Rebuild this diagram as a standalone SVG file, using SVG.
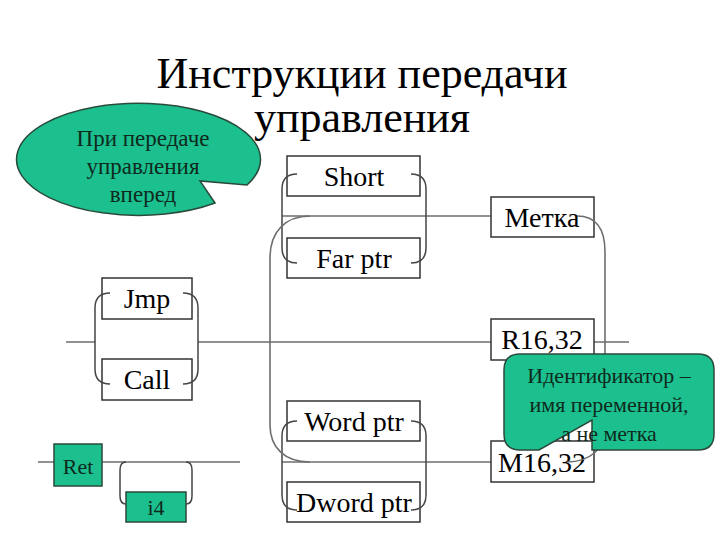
<svg xmlns="http://www.w3.org/2000/svg" width="720" height="540" viewBox="0 0 720 540">
<style>
.bg{fill:#fff}
.title{font-size:44px;fill:#000;text-anchor:middle}
.box{fill:#fff;stroke:#333;stroke-width:1.5}
.gbox{fill:#1cbf8e;stroke:#2a4a3a;stroke-width:1.5}
.lbl{font-size:28px;fill:#000;text-anchor:middle}
.glbl{font-size:23px;fill:#0e2a1c;text-anchor:middle}
.sm{font-size:22px}
.ln{fill:none;stroke:#6e6e6e;stroke-width:1.6}
.br{fill:none;stroke:#444;stroke-width:1.5}
.call{fill:#1cbf8e;stroke:#2a4a3a;stroke-width:1.5}
</style>
<rect class="bg" x="0" y="0" width="720" height="540"/>
<g font-family="'Liberation Serif', 'Times New Roman', serif">
<g id="title">
<text class="title" x="362" y="88">Инструкции передачи</text>
<text class="title" x="362" y="132">управления</text>
</g>
<g id="connectors">
<path class="ln" d="M282,216 H491"/>
<path class="ln" d="M282,462 H491"/>
<path class="ln" d="M66,342 H95 M198,342 H491 M594,342 H629"/>
<path class="ln" d="M38,462 H54 M102,462 H240"/>
</g>
<g id="n-short"><rect class="box" x="287" y="156" width="133" height="40"/><text class="lbl" x="354" y="186">Short</text></g>
<g id="n-farptr"><rect class="box" x="287" y="238" width="133" height="40"/><text class="lbl" x="354" y="268">Far ptr</text></g>
<g id="n-metka"><rect class="box" x="491" y="197" width="103" height="40"/><text class="lbl" x="542" y="227">Метка</text></g>
<g id="n-jmp"><rect class="box" x="102" y="278" width="90" height="41"/><text class="lbl" x="147" y="308">Jmp</text></g>
<g id="n-call"><rect class="box" x="102" y="359" width="90" height="41"/><text class="lbl" x="147" y="389">Call</text></g>
<g id="n-r1632"><rect class="box" x="491" y="319" width="103" height="41"/><text class="lbl" x="542" y="349">R16,32</text></g>
<g id="n-wordptr"><rect class="box" x="287" y="401" width="133" height="40"/><text class="lbl" x="354" y="431">Word ptr</text></g>
<g id="n-dwordptr"><rect class="box" x="287" y="482" width="133" height="40"/><text class="lbl" x="354" y="512">Dword ptr</text></g>
<g id="n-m1632"><rect class="box" x="491" y="441" width="103" height="41"/><text class="lbl" x="542" y="472">M16,32</text></g>
<g id="n-ret"><rect class="gbox" x="54" y="444" width="48" height="42"/><text class="glbl sm" x="78" y="474">Ret</text></g>
<g id="n-i4"><rect class="gbox" x="126" y="492" width="60" height="30"/><text class="glbl sm" x="156" y="515">i4</text></g>
<g id="brackets">
<path class="br" d="M110,293 Q95,293 95,308 V369 Q95,384 110,384"/>
<path class="br" d="M183,293 Q198,293 198,308 V369 Q198,384 183,384"/>
<path class="br" d="M297,174 Q282,174 282,189 V248 Q282,263 297,263"/>
<path class="br" d="M411,174 Q426,174 426,189 V248 Q426,263 411,263"/>
<path class="br" d="M297,421 Q282,421 282,436 V495 Q282,510 297,510"/>
<path class="br" d="M411,421 Q426,421 426,436 V495 Q426,510 411,510"/>
<path class="br" d="M126,462 Q120,462 120,470 V496 Q120,504 126,504"/>
<path class="br" d="M186,462 Q192,462 192,470 V496 Q192,504 186,504"/>
<path class="ln" d="M310,216 C285,216 270,232 270,258 V425 C270,448 285,462 310,462"/>
<path class="ln" d="M577,216 C598,216 605,232 605,252 V430 C605,448 590,462 567,462"/>
</g>
<g id="callout-forward">
<path class="call" d="M247,185 A122 56 0 1 0 215,203 L200,181 Z"/>
<text class="glbl" x="143" y="146">При передаче</text>
<text class="glbl" x="143" y="174">управления</text>
<text class="glbl" x="143" y="202">вперед</text>
</g>
<g id="callout-ident">
<path class="call" d="M520,354 H698 Q714,354 714,370 V434 Q714,450 698,450 H592 V420 L539,450 H520 Q504,450 504,434 V370 Q504,354 520,354 Z"/>
<text class="glbl sm" x="609" y="383">Идентификатор –</text>
<text class="glbl sm" x="609" y="412">имя переменной,</text>
<text class="glbl sm" x="609" y="441">а не метка</text>
</g>
</g>
</svg>
